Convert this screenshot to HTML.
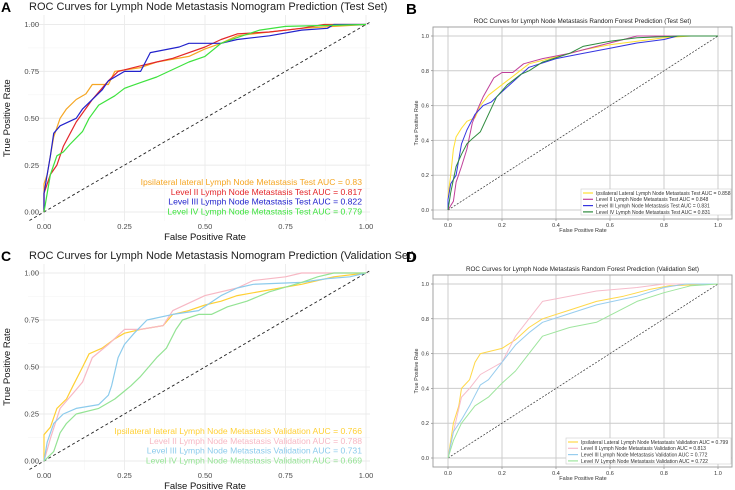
<!DOCTYPE html>
<html><head><meta charset="utf-8"><style>
html,body{margin:0;padding:0;background:#fff;}
svg{display:block;font-family:"Liberation Sans",sans-serif;}
</style></head><body>
<svg id="fig" width="735" height="490" viewBox="0 0 735 490"></svg>
<script>
// ---------- Panel A data (Nomogram test) ----------
const aIpsiFpr=[0,0,0.01,0.02,0.03,0.05,0.07,0.1,0.13,0.15,0.2,0.22,0.3,0.35,0.45,0.5,0.55,0.6,0.7,0.8,0.9,1];
const aIpsiTpr=[0,0.15,0.2,0.3,0.4,0.5,0.55,0.6,0.63,0.68,0.68,0.75,0.77,0.8,0.83,0.87,0.9,0.94,0.96,0.98,0.99,1];
const aL2Fpr=[0,0,0.02,0.04,0.06,0.1,0.15,0.2,0.23,0.3,0.35,0.4,0.5,0.55,0.6,0.7,0.8,0.87,1];
const aL2Tpr=[0,0.1,0.2,0.25,0.35,0.48,0.6,0.7,0.75,0.78,0.8,0.82,0.88,0.92,0.95,0.96,0.98,1,1];
const aL3Fpr=[0,0,0.02,0.03,0.05,0.1,0.12,0.18,0.2,0.25,0.3,0.33,0.42,0.45,0.55,0.6,0.7,0.8,0.88,0.9,1];
const aL3Tpr=[0,0.1,0.3,0.42,0.46,0.5,0.55,0.65,0.7,0.75,0.75,0.85,0.88,0.9,0.9,0.92,0.94,0.97,0.98,1,1];
const aL4Fpr=[0,0.02,0.04,0.06,0.08,0.12,0.14,0.17,0.22,0.25,0.3,0.35,0.4,0.45,0.5,0.55,0.6,0.67,0.75,1];
const aL4Tpr=[0,0.2,0.3,0.32,0.36,0.43,0.5,0.57,0.62,0.66,0.69,0.72,0.76,0.8,0.83,0.9,0.93,0.97,0.99,1];
const aLabels=["Ipsilateral lateral Lymph Node Metastasis Test AUC = 0.83","Level II Lymph Node Metastasis Test AUC = 0.817","Level III Lymph Node Metastasis Test AUC = 0.822","Level IV Lymph Node Metastasis Test AUC = 0.779"];
// ---------- Panel B data (Random forest test) ----------
const bIpsiFpr=[0,0,0.01,0.02,0.03,0.05,0.07,0.1,0.12,0.15,0.2,0.25,0.3,0.4,0.5,0.6,0.7,0.8,0.9,1];
const bIpsiTpr=[0,0.08,0.2,0.35,0.42,0.47,0.51,0.53,0.6,0.66,0.72,0.78,0.84,0.88,0.92,0.95,0.97,0.99,1,1];
const bL2Fpr=[0,0.02,0.03,0.05,0.07,0.09,0.11,0.13,0.17,0.2,0.24,0.28,0.35,0.45,0.55,0.65,0.7,1];
const bL2Tpr=[0,0.05,0.16,0.25,0.35,0.5,0.58,0.65,0.76,0.79,0.79,0.84,0.87,0.9,0.94,0.98,1,1];
const bL3Fpr=[0,0,0.01,0.03,0.05,0.07,0.1,0.13,0.16,0.2,0.25,0.3,0.4,0.5,0.6,0.7,0.8,0.85,1];
const bL3Tpr=[0,0.06,0.15,0.2,0.38,0.46,0.55,0.6,0.62,0.68,0.75,0.82,0.87,0.9,0.93,0.96,0.98,1,1];
const bL4Fpr=[0,0.01,0.03,0.05,0.07,0.09,0.12,0.15,0.18,0.22,0.27,0.3,0.35,0.45,0.5,0.6,0.7,0.86,1];
const bL4Tpr=[0,0.1,0.25,0.32,0.38,0.41,0.45,0.55,0.65,0.72,0.78,0.8,0.85,0.9,0.94,0.97,0.99,1,1];
const bLabels=["Ipsilateral Lateral Lymph Node Metastasis Test AUC = 0.858","Level II Lymph Node Metastasis Test AUC = 0.848","Level III Lymph Node Metastasis Test AUC = 0.831","Level IV Lymph Node Metastasis Test AUC = 0.831"];
// ---------- Panel C data (Nomogram validation) ----------
const cIpsiFpr=[0,0,0.02,0.04,0.07,0.09,0.12,0.14,0.18,0.22,0.25,0.3,0.37,0.4,0.45,0.5,0.55,0.6,0.7,0.8,0.9,1];
const cIpsiTpr=[0,0.14,0.18,0.28,0.33,0.4,0.5,0.57,0.6,0.65,0.68,0.7,0.72,0.78,0.8,0.83,0.85,0.88,0.91,0.94,0.98,1];
const cL2Fpr=[0,0.02,0.05,0.1,0.12,0.15,0.2,0.25,0.3,0.37,0.4,0.5,0.6,0.65,0.75,0.8,1];
const cL2Tpr=[0,0.12,0.28,0.38,0.42,0.55,0.62,0.7,0.7,0.72,0.8,0.88,0.92,0.96,0.98,1,1];
const cL3Fpr=[0,0.01,0.03,0.06,0.1,0.17,0.2,0.21,0.23,0.25,0.28,0.32,0.4,0.48,0.55,0.6,0.65,0.8,0.88,0.95,1];
const cL3Tpr=[0,0.1,0.2,0.25,0.28,0.3,0.35,0.4,0.55,0.62,0.68,0.75,0.78,0.8,0.88,0.92,0.94,0.95,0.97,0.98,1];
const cL4Fpr=[0,0.03,0.05,0.07,0.1,0.17,0.22,0.27,0.3,0.35,0.38,0.41,0.43,0.48,0.52,0.57,0.63,0.7,0.8,0.85,0.9,1];
const cL4Tpr=[0,0.05,0.15,0.2,0.25,0.28,0.33,0.4,0.45,0.55,0.6,0.7,0.75,0.78,0.78,0.82,0.85,0.9,0.95,0.98,1,1];
const cLabels=["Ipsilateral lateral Lymph Node Metastasis Validation AUC = 0.766","Level II Lymph Node Metastasis Validation AUC = 0.788","Level III Lymph Node Metastasis Validation AUC = 0.731","Level IV Lymph Node Metastasis Validation AUC = 0.669"];
// ---------- Panel D data (Random forest validation) ----------
const dIpsiFpr=[0,0.01,0.02,0.04,0.05,0.08,0.1,0.12,0.2,0.25,0.3,0.35,0.45,0.55,0.65,0.75,0.82,1];
const dIpsiTpr=[0,0.1,0.2,0.3,0.4,0.45,0.55,0.6,0.63,0.68,0.75,0.8,0.85,0.9,0.93,0.97,0.99,1];
const dL2Fpr=[0,0.02,0.05,0.08,0.12,0.2,0.25,0.3,0.35,0.45,0.55,0.7,0.8,1];
const dL2Tpr=[0,0.15,0.35,0.4,0.48,0.55,0.7,0.8,0.9,0.93,0.96,0.98,1,1];
const dL3Fpr=[0,0.02,0.05,0.08,0.12,0.15,0.2,0.25,0.3,0.35,0.45,0.55,0.7,0.8,0.88,1];
const dL3Tpr=[0,0.15,0.22,0.3,0.42,0.45,0.55,0.65,0.72,0.78,0.83,0.88,0.93,0.98,1,1];
const dL4Fpr=[0,0.02,0.05,0.1,0.15,0.2,0.25,0.3,0.35,0.45,0.55,0.6,0.7,0.8,0.9,1];
const dL4Tpr=[0,0.1,0.2,0.3,0.35,0.43,0.5,0.6,0.7,0.75,0.78,0.82,0.9,0.95,0.99,1];
const dLabels=["Ipsilateral Lateral Lymph Node Metastasis Validation AUC = 0.799","Level II Lymph Node Metastasis Validation AUC = 0.813","Level III Lymph Node Metastasis Validation AUC = 0.772","Level IV Lymph Node Metastasis Validation AUC = 0.722"];
const ggTicks=["0.00","0.25","0.50","0.75","1.00"];
const mplTicks=["0.0","0.2","0.4","0.6","0.8","1.0"];

const NS="http://www.w3.org/2000/svg";
const svg=document.getElementById('fig');
function mk(tag,attrs,parent){const e=document.createElementNS(NS,tag);for(const k in attrs)e.setAttribute(k,attrs[k]);(parent||svg).appendChild(e);return e;}
function txt(s,attrs,parent){const e=mk('text',attrs,parent);e.textContent=s;return e;}

function ggPanel(id,letter,title,x0,x1,y0,y1,px,py,pw,ph,series,colors,labels,legY){
  const g=mk('g',{});
  
  
  const sx=v=>x0+(x1-x0)*v, sy=v=>y0+(y1-y0)*v;
  const cid='clip'+id;
  const cp=mk('clipPath',{id:cid},g);mk('rect',{x:px,y:py,width:pw,height:ph},cp);
  const grid=mk('g',{'clip-path':'url(#'+cid+')'},g);
  
  
  [0.125,0.375,0.625,0.875,-0.125,1.125].forEach(v=>{
    mk('line',{x1:sx(v),x2:sx(v),y1:py,y2:py+ph,stroke:'#f3f3f3','stroke-width':0.5},grid);
    mk('line',{x1:px,x2:px+pw,y1:sy(v),y2:sy(v),stroke:'#f3f3f3','stroke-width':0.5},grid);});
  ggTicks.forEach((t,i)=>{const v=i*0.25;
    mk('line',{x1:sx(v),x2:sx(v),y1:py,y2:py+ph,stroke:'#ebebeb','stroke-width':0.9},grid);
    mk('line',{x1:px,x2:px+pw,y1:sy(v),y2:sy(v),stroke:'#ebebeb','stroke-width':0.9},grid);
    const tx=txt(t,{x:sx(v),y:y0+17,'font-size':7.5,fill:'#4d4d4d','text-anchor':'middle'},g);
    
    
    const ty=txt(t,{x:x0-5,y:sy(v)+2.7,'font-size':7.5,fill:'#4d4d4d','text-anchor':'end'},g);
    
    
  });
  const dg=mk('line',{x1:sx(-0.06),y1:sy(-0.06),x2:sx(1.06),y2:sy(1.06),stroke:'#222','stroke-width':0.9,'stroke-dasharray':'3,2.5','clip-path':'url(#'+cid+')'},g);
  
  
  series.forEach((s,k)=>{
    const pts=s[0].map((f,i)=>sx(f).toFixed(1)+','+sy(s[1][i]).toFixed(1)).join(' ');
    const pl=mk('polyline',{points:pts,fill:'none',stroke:colors[k],'stroke-width':1.2,'stroke-linejoin':'round'},g);
    
    
  });
  labels.forEach((l,k)=>{
    const t=txt(l,{x:362,y:legY+k*9.8,'font-size':8.6,fill:colors[k],'text-anchor':'end'},g);
    
    
  });
  const tt=txt(title,{x:29,y:py-5,'font-size':11,fill:'#222'},g);
  
  
  const lt=txt(letter,{x:1,y:py-3,'font-size':14,'font-weight':'bold',fill:'#000'},g);
  
  
  const xt=txt('False Positive Rate',{x:(x0+x1)/2,y:y0+28,'font-size':9.5,fill:'#111','text-anchor':'middle'},g);
  
  
  const yt=txt('True Positive Rate',{x:0,y:0,'font-size':9.5,fill:'#111','text-anchor':'middle',transform:'translate(10,'+((y0+y1)/2)+') rotate(-90)'},g);
  
  
}

function mplPanel(id,letter,title,x0,x1,y0,y1,bx,by,bw,bh,series,colors,labels,leg){
  const g=mk('g',{});
  
  
  const sx=v=>x0+(x1-x0)*v, sy=v=>y0+(y1-y0)*v;
  mplTicks.forEach((t,i)=>{const v=i*0.2;
    mk('line',{x1:sx(v),x2:sx(v),y1:by,y2:by+bh,stroke:'#cccccc','stroke-width':1},g);
    mk('line',{x1:bx,x2:bx+bw,y1:sy(v),y2:sy(v),stroke:'#cccccc','stroke-width':1},g);
    mk('line',{x1:sx(v),x2:sx(v),y1:by+bh,y2:by+bh+2,stroke:'#555','stroke-width':0.5},g);
    mk('line',{x1:bx-2,x2:bx,y1:sy(v),y2:sy(v),stroke:'#555','stroke-width':0.5},g);
    const tx=txt(t,{x:sx(v),y:by+bh+8,'font-size':5.5,fill:'#333','text-anchor':'middle'},g);
    
    
    const ty=txt(t,{x:bx-4,y:sy(v)+2,'font-size':5.5,fill:'#333','text-anchor':'end'},g);
    
    
  });
  const dg=mk('line',{x1:sx(0),y1:sy(0),x2:sx(1),y2:sy(1),stroke:'#333','stroke-width':0.7,'stroke-dasharray':'2,1.5'},g);
  
  
  series.forEach((s,k)=>{
    const pts=s[0].map((f,i)=>sx(f).toFixed(1)+','+sy(s[1][i]).toFixed(1)).join(' ');
    const pl=mk('polyline',{points:pts,fill:'none',stroke:colors[k],'stroke-width':1,'stroke-linejoin':'round'},g);
    
    
  });
  const fr=mk('rect',{x:bx,y:by,width:bw,height:bh,fill:'none',stroke:'#999','stroke-width':0.9},g);
  
  
  const lg=mk('g',{},g);
  
  
  mk('rect',{x:leg[0],y:leg[1],width:leg[2],height:leg[3],fill:'#fff',stroke:'#ccc','stroke-width':0.6},lg);
  labels.forEach((l,k)=>{
    const yy=leg[1]+4+k*6.3;
    mk('line',{x1:leg[0]+2,x2:leg[0]+12,y1:yy,y2:yy,stroke:colors[k],'stroke-width':1.2},lg);
    const t=txt(l,{x:leg[0]+15,y:yy+1.9,'font-size':5.05,fill:'#333'},lg);
    
    
  });
  const tt=txt(title,{x:bx+bw/2,y:by-4,'font-size':6.3,fill:'#222','text-anchor':'middle'},g);
  
  
  const lt=txt(letter,{x:406,y:by-13,'font-size':15,'font-weight':'bold',fill:'#000'},g);
  
  
  const xt=txt('False Positive Rate',{x:(x0+x1)/2,y:by+bh+13,'font-size':5.5,fill:'#333','text-anchor':'middle'},g);
  
  
  const yt=txt('True Positive Rate',{x:0,y:0,'font-size':5.5,fill:'#333','text-anchor':'middle',transform:'translate('+(bx-15)+','+((y0+y1)/2)+') rotate(-90)'},g);
  
  
}

ggPanel('a','A','ROC Curves for Lymph Node Metastasis Nomogram Prediction (Test Set)',44,366,212,24.5,28,15,342,206,
  [[aIpsiFpr,aIpsiTpr],[aL2Fpr,aL2Tpr],[aL3Fpr,aL3Tpr],[aL4Fpr,aL4Tpr]],
  ['#f5a623','#e3262a','#2222cc','#3ee23e'],aLabels,185);
ggPanel('c','C','ROC Curves for Lymph Node Metastasis Nomogram Prediction (Validation Set)',44,366,461,273,28,264,342,206,
  [[cIpsiFpr,cIpsiTpr],[cL2Fpr,cL2Tpr],[cL3Fpr,cL3Tpr],[cL4Fpr,cL4Tpr]],
  ['#ffd034','#f7b8c4','#8ccbec','#94e394'],cLabels,434);
mplPanel('b','B','ROC Curves for Lymph Node Metastasis Random Forest Prediction (Test Set)',448,718,210,36,433,27,299,192,
  [[bIpsiFpr,bIpsiTpr],[bL2Fpr,bL2Tpr],[bL3Fpr,bL3Tpr],[bL4Fpr,bL4Tpr]],
  ['#ffe033','#c0409a','#3535e0','#2e8b3e'],bLabels,[581,189,150,26]);
mplPanel('d','D','ROC Curves for Lymph Node Metastasis Random Forest Prediction (Validation Set)',448,718,458,284,433,275,299,192,
  [[dIpsiFpr,dIpsiTpr],[dL2Fpr,dL2Tpr],[dL3Fpr,dL3Tpr],[dL4Fpr,dL4Tpr]],
  ['#ffd84a','#f6bccb','#98cdee','#9ee59e'],dLabels,[566,438,165,26]);
</script>
</body></html>
